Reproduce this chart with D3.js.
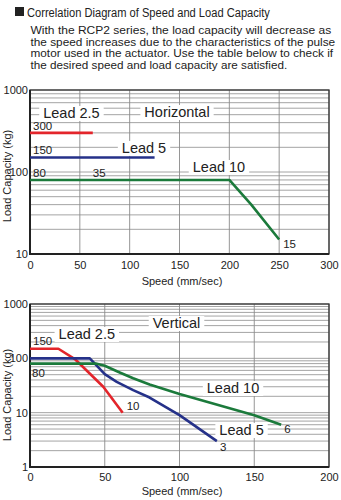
<!DOCTYPE html>
<html>
<head>
<meta charset="utf-8">
<script src="https://cdn.jsdelivr.net/npm/d3@7/dist/d3.min.js"></script>
<style>
  html, body { margin: 0; padding: 0; background: #fff; }
  svg { display: block; }
  text { font-family: "Liberation Sans", Arial, sans-serif; fill: #222; }
</style>
</head>
<body>
<svg id="chart" width="341" height="500"></svg>
<script>
// ---- Horizontal mounting: speed (mm/sec) vs. load capacity (kg) ----
const hLead25Speed = [0, 63];
const hLead25Load  = [300, 300];
const hLead5Speed  = [0, 125];
const hLead5Load   = [150, 150];
const hLead10Speed = [0, 200, 222, 250];
const hLead10Load  = [80, 80, 40, 15];

// ---- Vertical mounting ----
const vLead25Speed = [0, 19, 30, 49, 62];
const vLead25Load  = [150, 150, 97, 30, 10];
const vLead5Speed  = [0, 40, 50, 58, 69, 80, 100, 125];
const vLead5Load   = [100, 100, 51, 37, 26, 19, 9, 3];
const vLead10Speed = [0, 44, 50, 60, 69, 80, 100, 150, 168];
const vLead10Load  = [80, 80, 73, 55, 43, 33, 22, 9, 6];

// ---- Tick labels ----
const hSpeedTicks = [0, 50, 100, 150, 200, 250, 300];
const hLoadTicks  = [10, 100, 1000];
const vSpeedTicks = [0, 50, 100, 150, 200];
const vLoadTicks  = [1, 10, 100, 1000];

const leadNames = ["Lead 2.5", "Lead 5", "Lead 10"];
const leadColors = ["#e3252b", "#253189", "#1b7a3b"];

const titleText = "Correlation Diagram of Speed and Load Capacity";
const introLines = [
  "With the RCP2 series, the load capacity will decrease as",
  "the speed increases due to the characteristics of the pulse",
  "motor used in the actuator. Use the table below to check if",
  "the desired speed and load capacity are satisfied."
];

const svg = d3.select("#chart");

// Fit a text line to a target width by horizontal scaling
function condensed(xPos, yPos, size, width, str, family) {
  const g = svg.append("g");
  const t = g.append("text").attr("x", 0).attr("y", 0).attr("font-size", size).text(str);
  if (family) t.attr("font-family", family);
  const natural = t.node().getComputedTextLength();
  g.attr("transform", `translate(${xPos},${yPos}) scale(${width / natural},1)`);
  return g;
}

// Header
svg.append("rect").attr("x", 15).attr("y", 7).attr("width", 9).attr("height", 9).attr("fill", "#222");
condensed(27, 17, 12.5, 243, titleText, "'Liberation Sans Narrow', 'Liberation Sans', sans-serif");
const introWidths = [301, 305, 303, 257];
const introBase = [34.4, 45.8, 57.2, 68.6];
introLines.forEach((line, i) => condensed(30.5, introBase[i], 11, introWidths[i], line));

function drawPanel(cfg) {
  const left = 30, right = 329;
  const x = d3.scaleLinear().domain([0, cfg.xTicks[cfg.xTicks.length - 1]]).range([left, right]);
  const y = d3.scaleLog().domain([cfg.yTicks[0], cfg.yTicks[cfg.yTicks.length - 1]]).range([cfg.bottom, cfg.top]);
  const g = svg.append("g");

  // grid
  g.append("g").selectAll("line").data(y.ticks()).join("line")
    .attr("x1", left).attr("x2", right)
    .attr("y1", d => y(d)).attr("y2", d => y(d))
    .attr("stroke", "#9a9a9a").attr("stroke-width", 0.9);
  g.append("g").selectAll("line").data(cfg.xTicks).join("line")
    .attr("x1", d => x(d)).attr("x2", d => x(d))
    .attr("y1", cfg.top).attr("y2", cfg.bottom)
    .attr("stroke", "#8a8a8a").attr("stroke-width", 0.9);

  // label boxes + labels (white backing interrupts the grid)
  const lab = g.append("g");
  cfg.boxed.forEach(b => {
    const t = lab.append("text").attr("x", x(b.sx)).attr("y", y(b.ly))
      .attr("text-anchor", "middle").attr("font-size", 14.5).text(b.text);
    const bb = t.node().getBBox();
    lab.insert("rect", "text").attr("x", bb.x - 4).attr("y", bb.y + 1)
      .attr("width", bb.width + 8).attr("height", bb.height - 1).attr("fill", "#fff");
  });

  // frame
  g.append("rect").attr("x", left).attr("y", cfg.top).attr("width", right - left).attr("height", cfg.bottom - cfg.top)
    .attr("fill", "none").attr("stroke", "#333").attr("stroke-width", 1.3);
  g.append("path").attr("d", `M${left},${cfg.top}V${cfg.bottom}H${right}`)
    .attr("fill", "none").attr("stroke", "#222").attr("stroke-width", 2);

  // series
  const line = d3.line().x(d => x(d[0])).y(d => y(d[1]));
  cfg.series.forEach((s, i) => {
    const pts = s.speed.map((v, k) => [v, s.load[k]]);
    g.append("path").datum(pts).attr("d", line)
      .attr("fill", "none").attr("stroke", leadColors[i]).attr("stroke-width", 2.6)
      .attr("stroke-linejoin", "round");
  });

  // value labels
  cfg.values.forEach(v => {
    g.append("text").attr("x", x(v.sx) + v.dx).attr("y", y(v.ly) + v.dy)
      .attr("font-size", 11.5).text(v.text);
  });

  // axes
  const xa = g.append("g").attr("transform", `translate(0,${cfg.bottom})`)
    .call(d3.axisBottom(x).tickValues(cfg.xTicks).tickSize(0).tickPadding(cfg.xPad));
  const ya = g.append("g").attr("transform", `translate(${left},0)`)
    .call(d3.axisLeft(y).tickValues(cfg.yTicks).tickFormat(d3.format("d")).tickSize(0).tickPadding(2));
  [xa, ya].forEach(a => {
    a.select(".domain").remove();
    a.attr("font-family", null).attr("font-size", null);
    a.selectAll("text").attr("font-size", 11).attr("fill", "#222");
  });

  g.append("text").attr("x", 182).attr("y", cfg.xTitleY).attr("text-anchor", "middle")
    .attr("font-size", 11).text("Speed (mm/sec)");
  g.append("text").attr("transform", `translate(11,${cfg.yTitleC}) rotate(-90)`)
    .attr("text-anchor", "middle").attr("font-size", 11).text("Load Capacity (kg)");
}

drawPanel({
  top: 90, bottom: 254, xTicks: hSpeedTicks, yTicks: hLoadTicks, xPad: 7,
  xTitleY: 285, yTitleC: 176,
  series: [
    { speed: hLead25Speed, load: hLead25Load },
    { speed: hLead5Speed,  load: hLead5Load },
    { speed: hLead10Speed, load: hLead10Load }
  ],
  boxed: [
    { text: leadNames[0], sx: 41.6, ly: 456 },
    { text: "Horizontal", sx: 147.5, ly: 469 },
    { text: leadNames[1], sx: 114.4, ly: 171 },
    { text: leadNames[2], sx: 189.6, ly: 100 }
  ],
  values: [
    { text: String(hLead25Load[0]), sx: 0, ly: hLead25Load[0], dx: 3, dy: -3 },
    { text: String(hLead5Load[0]),  sx: 0, ly: hLead5Load[0],  dx: 3, dy: -3.5 },
    { text: String(hLead10Load[0]), sx: 0, ly: hLead10Load[0], dx: 3, dy: -3 },
    { text: "35", sx: 63, ly: hLead10Load[0], dx: 0, dy: -3 },
    { text: String(hLead10Load[3]), sx: hLead10Speed[3], ly: hLead10Load[3], dx: 4, dy: 8 }
  ]
});

drawPanel({
  top: 304, bottom: 467, xTicks: vSpeedTicks, yTicks: vLoadTicks, xPad: 6,
  xTitleY: 495, yTitleC: 395,
  series: [
    { speed: vLead25Speed, load: vLead25Load },
    { speed: vLead5Speed,  load: vLead5Load },
    { speed: vLead10Speed, load: vLead10Load }
  ],
  boxed: [
    { text: "Vertical", sx: 98, ly: 361 },
    { text: leadNames[0], sx: 38, ly: 227 },
    { text: leadNames[2], sx: 135.8, ly: 23 },
    { text: leadNames[1], sx: 141.5, ly: 3.88 }
  ],
  values: [
    { text: String(vLead25Load[0]), sx: 0, ly: vLead25Load[0], dx: 3, dy: -3.5 },
    { text: String(vLead10Load[0]), sx: 0, ly: vLead10Load[0], dx: 2, dy: 13 },
    { text: String(vLead25Load[4]), sx: vLead25Speed[4], ly: vLead25Load[4], dx: 4, dy: -3 },
    { text: String(vLead10Load[8]), sx: vLead10Speed[8], ly: vLead10Load[8], dx: 3, dy: 8 },
    { text: String(vLead5Load[7]),  sx: vLead5Speed[7],  ly: vLead5Load[7],  dx: 3, dy: 10 }
  ]
});
</script>
</body>
</html>
